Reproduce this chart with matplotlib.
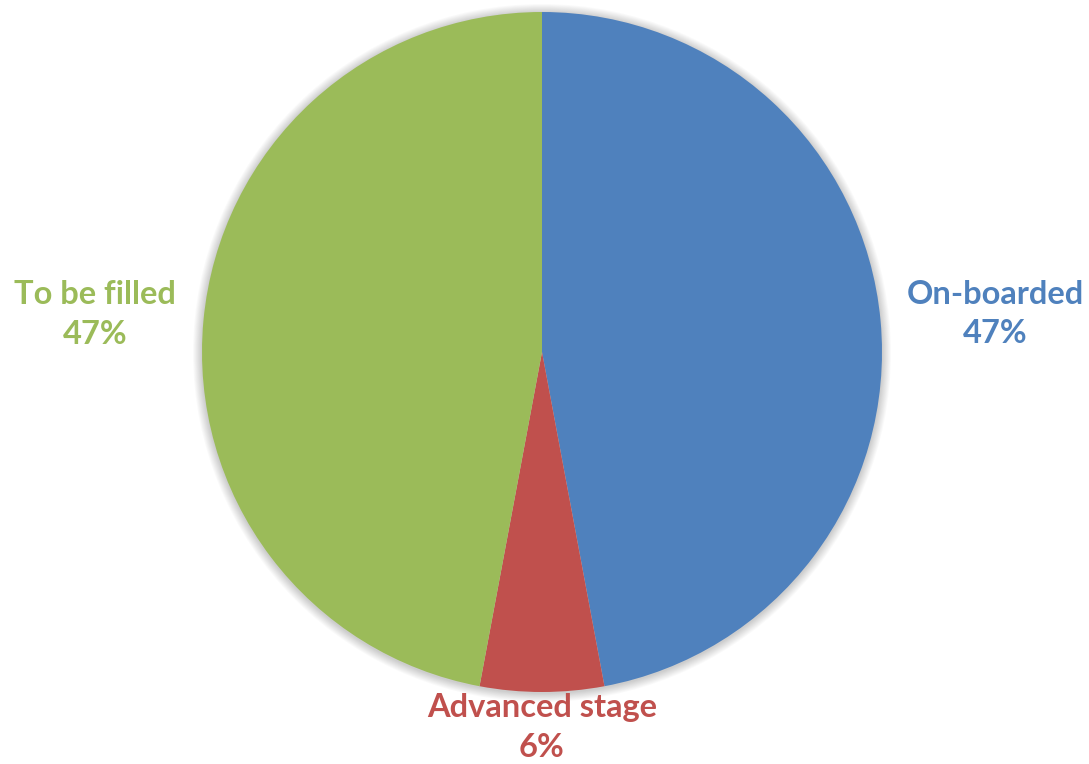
import numpy as np
import matplotlib
matplotlib.use("Agg")
import matplotlib.pyplot as plt
from matplotlib.patches import Circle

labels = ["On-boarded", "Advanced stage", "To be filled"]
values = [8, 1, 8]
colors = ["#4F81BD", "#C0504D", "#9BBB59"]
label_dist = [1.34, 1.093, 1.32]

W, H = 1089, 764
fig = plt.figure(figsize=(W / 100, H / 100), dpi=100)
ax = fig.add_axes([0, 0, 1, 1])
ax.set_xlim(0, W)
ax.set_ylim(0, H)
ax.set_aspect("equal")
ax.axis("off")

cx, cy, R = 542, H - 352, 340

# soft shadow
for k in range(10, 0, -1):
    ax.add_patch(Circle((cx, cy - 1), R + k * 0.9, color="black",
                        alpha=0.018, lw=0, zorder=0))

wedges, _ = ax.pie(values, colors=colors, startangle=90, counterclock=False,
                   center=(cx, cy), radius=R,
                   wedgeprops=dict(linewidth=0, zorder=1))
ax.set_xlim(0, W)
ax.set_ylim(0, H)

total = sum(values)
for w, lab, v, col, d in zip(wedges, labels, values, colors, label_dist):
    mid = np.deg2rad((w.theta1 + w.theta2) / 2)
    x = cx + R * d * np.cos(mid)
    y = cy + R * d * np.sin(mid) - 4
    ax.text(x, y, f"{lab}\n{round(100 * v / total)}%", color=col,
            ha="center", va="center", fontsize=23.5, fontweight="bold",
            family=["Lato", "DejaVu Sans"], linespacing=1.45, zorder=3)

fig.savefig("out.png", dpi=100)
